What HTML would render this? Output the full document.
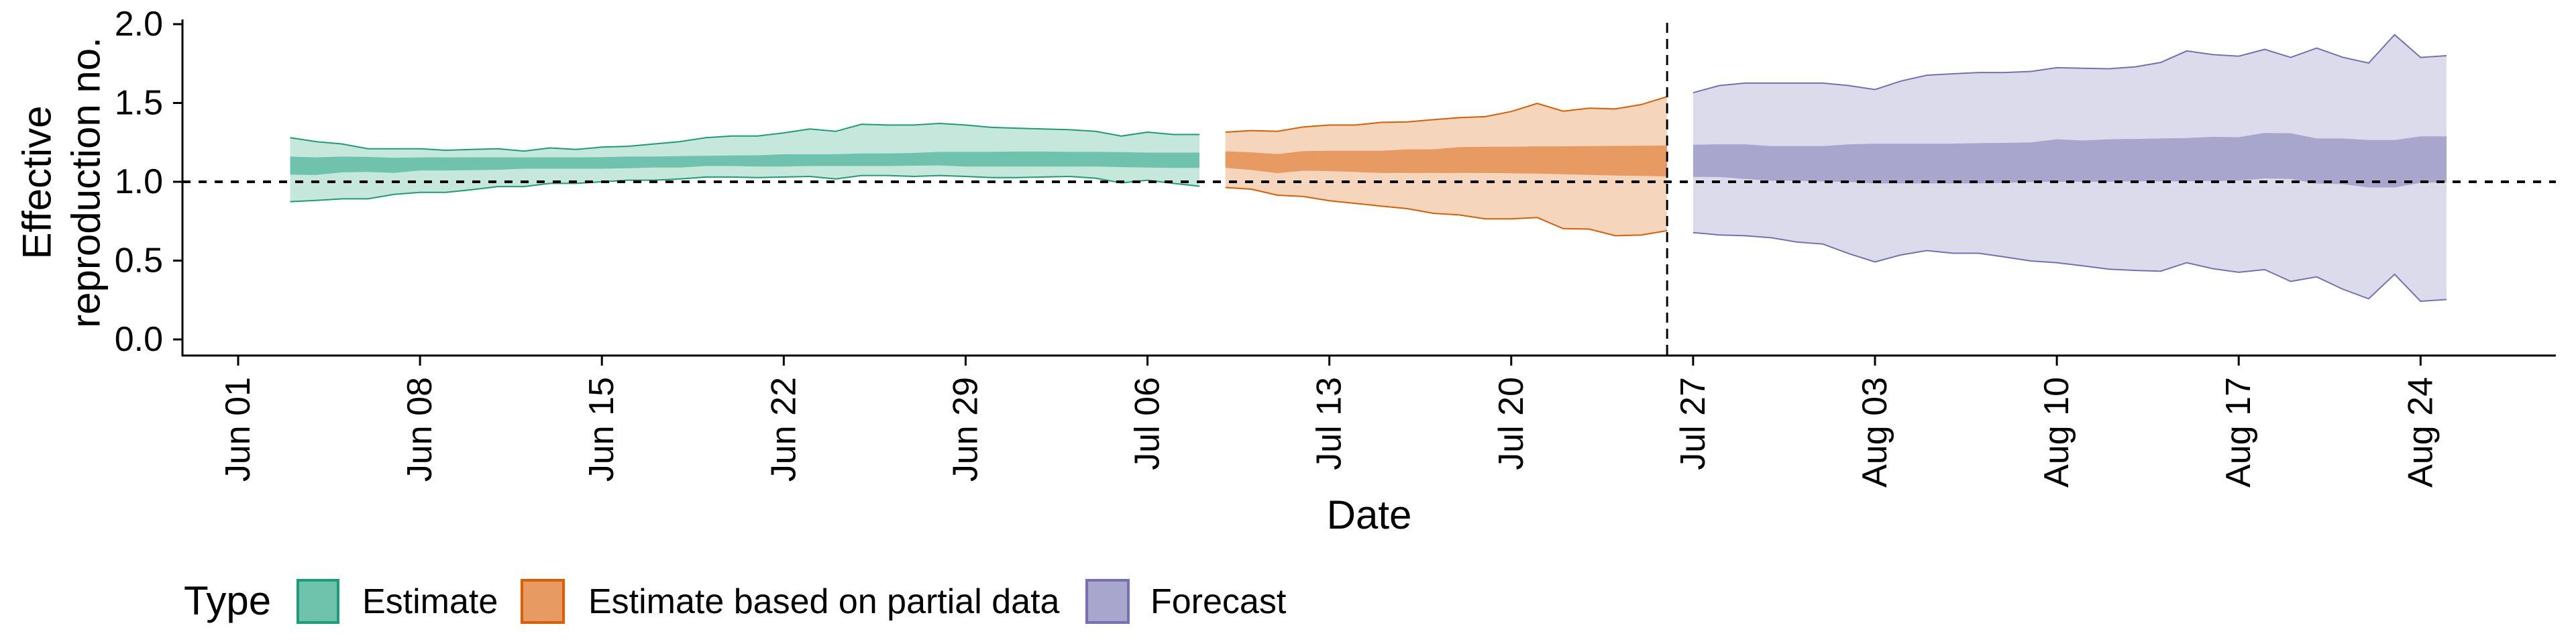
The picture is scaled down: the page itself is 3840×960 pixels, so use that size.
<!DOCTYPE html>
<html><head><meta charset="utf-8"><style>
html,body{margin:0;padding:0;background:#fff;}
svg{display:block;font-family:"Liberation Sans",sans-serif;}
</style></head><body>
<svg id="chart" width="3840" height="960" viewBox="0 0 3840 960" xmlns="http://www.w3.org/2000/svg">
<g id="bands"></g>
<g id="axes"></g>
<text transform="translate(55,272) rotate(-90)" text-anchor="middle" font-size="60" dominant-baseline="central">Effective</text>
<text transform="translate(128,272) rotate(-90)" text-anchor="middle" font-size="60" dominant-baseline="central">reproduction no.</text>
<text x="2041" y="788" text-anchor="middle" font-size="60">Date</text>
<g>
<text x="274" y="916" font-size="60">Type</text>
<rect x="444" y="865" width="60" height="63" fill="#6fc2ab" stroke="#1b9e77" stroke-width="4"/>
<text x="540" y="914" font-size="52">Estimate</text>
<rect x="778" y="865" width="62" height="63" fill="#e79b63" stroke="#d95f02" stroke-width="4"/>
<text x="877" y="914" font-size="52">Estimate based on partial data</text>
<rect x="1620" y="865" width="62" height="63" fill="#a9a6cd" stroke="#7570b3" stroke-width="4"/>
<text x="1715" y="914" font-size="52">Forecast</text>
</g>
</svg>
<script>
const tickDays=[0,7,14,21,28,35,42,49,56,63,70,77,84];
const tickLabels=["Jun 01","Jun 08","Jun 15","Jun 22","Jun 29","Jul 06","Jul 13","Jul 20","Jul 27","Aug 03","Aug 10","Aug 17","Aug 24"];
const yTicks=[0,0.5,1,1.5,2];
const yTickLabels=["0.0","0.5","1.0","1.5","2.0"];
const forecastStartDay=55;
const estDays0=2, partDays0=38, fcDays0=56;
const estOuterU=[1.28,1.255,1.24,1.21,1.21,1.21,1.20,1.205,1.21,1.195,1.215,1.205,1.22,1.225,1.24,1.255,1.28,1.29,1.29,1.31,1.335,1.32,1.365,1.36,1.36,1.37,1.36,1.345,1.34,1.335,1.33,1.32,1.29,1.315,1.30,1.30];
const estOuterL=[0.874,0.882,0.892,0.892,0.92,0.933,0.933,0.95,0.97,0.97,0.99,0.99,1.0,1.01,1.01,1.018,1.03,1.03,1.027,1.03,1.034,1.018,1.04,1.04,1.034,1.04,1.034,1.027,1.027,1.03,1.034,1.023,0.993,1.01,0.99,0.972];
const estInnerU=[1.16,1.155,1.16,1.158,1.152,1.155,1.155,1.155,1.155,1.155,1.155,1.155,1.156,1.16,1.16,1.163,1.165,1.167,1.168,1.175,1.175,1.175,1.18,1.18,1.183,1.19,1.19,1.19,1.192,1.192,1.19,1.19,1.188,1.185,1.185,1.185];
const estInnerL=[1.046,1.043,1.06,1.063,1.056,1.072,1.072,1.074,1.076,1.083,1.083,1.083,1.083,1.086,1.09,1.09,1.1,1.1,1.097,1.097,1.1,1.1,1.1,1.1,1.102,1.104,1.097,1.097,1.097,1.097,1.097,1.097,1.093,1.09,1.088,1.088];
const partOuterU=[1.315,1.325,1.32,1.348,1.36,1.36,1.377,1.38,1.394,1.407,1.413,1.446,1.497,1.448,1.467,1.462,1.49,1.54];
const partOuterL=[0.964,0.953,0.915,0.907,0.88,0.863,0.846,0.83,0.8,0.79,0.765,0.765,0.773,0.703,0.7,0.658,0.662,0.69];
const partInnerU=[1.193,1.187,1.176,1.195,1.197,1.197,1.197,1.206,1.206,1.22,1.222,1.222,1.225,1.225,1.227,1.228,1.229,1.23];
const partInnerL=[1.088,1.075,1.055,1.07,1.068,1.062,1.056,1.056,1.056,1.056,1.056,1.054,1.052,1.048,1.044,1.04,1.037,1.034];
const fcOuterU=[1.565,1.61,1.626,1.626,1.626,1.626,1.61,1.585,1.639,1.676,1.685,1.693,1.693,1.70,1.724,1.72,1.717,1.729,1.757,1.83,1.807,1.797,1.84,1.789,1.848,1.79,1.753,1.933,1.789,1.80];
const fcOuterL=[0.678,0.663,0.658,0.645,0.618,0.605,0.544,0.492,0.536,0.564,0.547,0.547,0.523,0.498,0.487,0.467,0.446,0.438,0.433,0.487,0.449,0.426,0.443,0.368,0.397,0.319,0.258,0.413,0.242,0.253];
const fcInnerU=[1.235,1.238,1.238,1.227,1.227,1.227,1.238,1.242,1.242,1.242,1.242,1.245,1.247,1.25,1.27,1.262,1.27,1.272,1.275,1.278,1.285,1.283,1.31,1.308,1.275,1.275,1.265,1.265,1.288,1.288];
const fcInnerL=[1.031,1.03,1.018,1.007,1.007,1.002,0.999,0.99,0.99,0.99,0.99,0.99,0.993,0.999,1.0,1.0,1.0,1.003,1.003,1.003,1.005,1.008,1.021,1.018,0.989,0.985,0.964,0.964,0.993,0.996];

const NS="http://www.w3.org/2000/svg";
const X=d=>355+38.73*d;
const Y=v=>506-235*v;
function mk(tag,attrs,parent){const e=document.createElementNS(NS,tag);for(const k in attrs)e.setAttribute(k,attrs[k]);parent.appendChild(e);return e;}
const bands=document.getElementById('bands'), axes=document.getElementById('axes');
function series(name,d0,oU,oL,iU,iL,light,dark,line){
  const up=oU.map((v,i)=>X(d0+i).toFixed(1)+','+Y(v).toFixed(1));
  const lo=oL.map((v,i)=>X(d0+i).toFixed(1)+','+Y(v).toFixed(1));
  const p1=mk('polygon',{points:up.concat(lo.slice().reverse()).join(' '),fill:light},bands);
  
  
  const iu=iU.map((v,i)=>X(d0+i).toFixed(1)+','+Y(v).toFixed(1));
  const il=iL.map((v,i)=>X(d0+i).toFixed(1)+','+Y(v).toFixed(1));
  const p2=mk('polygon',{points:iu.concat(il.slice().reverse()).join(' '),fill:dark},bands);
  
  
  const l1=mk('polyline',{points:up.join(' '),fill:'none',stroke:line,'stroke-width':2},bands);
  
  
  const l2=mk('polyline',{points:lo.join(' '),fill:'none',stroke:line,'stroke-width':2},bands);
  
  
}
series('estimate',estDays0,estOuterU,estOuterL,estInnerU,estInnerL,'#c5e7dc','#6fc2ab','#1b9e77');
series('partial',partDays0,partOuterU,partOuterL,partInnerU,partInnerL,'#f5d5bb','#e79b63','#d95f02');
series('forecast',fcDays0,fcOuterU,fcOuterL,fcInnerU,fcInnerL,'#dcdbeb','#a9a6cd','#7570b3');

const h=mk('line',{x1:272,x2:3810,y1:Y(1),y2:Y(1),stroke:'#000','stroke-width':4,'stroke-dasharray':'12 12'},axes);


const v=mk('line',{x1:X(forecastStartDay),x2:X(forecastStartDay),y1:34,y2:530,stroke:'#000','stroke-width':3,'stroke-dasharray':'15 9'},axes);


const ya=mk('line',{x1:272,x2:272,y1:29,y2:531.5,stroke:'#000','stroke-width':3},axes);


const xa=mk('line',{x1:270.5,x2:3810,y1:530,y2:530,stroke:'#000','stroke-width':3},axes);


yTicks.forEach((t,i)=>{
  const tk=mk('line',{x1:258,x2:272,y1:Y(t),y2:Y(t),stroke:'#000','stroke-width':3},axes);
  
  
  const tx=mk('text',{x:243,y:Y(t),'text-anchor':'end','dominant-baseline':'central','font-size':52},axes);
  
  
  tx.textContent=yTickLabels[i];
});
tickDays.forEach((d,i)=>{
  const tk=mk('line',{x1:X(d),x2:X(d),y1:530,y2:545,stroke:'#000','stroke-width':3},axes);
  
  
  const tx=mk('text',{transform:`translate(${X(d)},562) rotate(-90)`,'text-anchor':'end','dominant-baseline':'central','font-size':52},axes);
  
  
  tx.textContent=tickLabels[i];
});
</script>
</body></html>
